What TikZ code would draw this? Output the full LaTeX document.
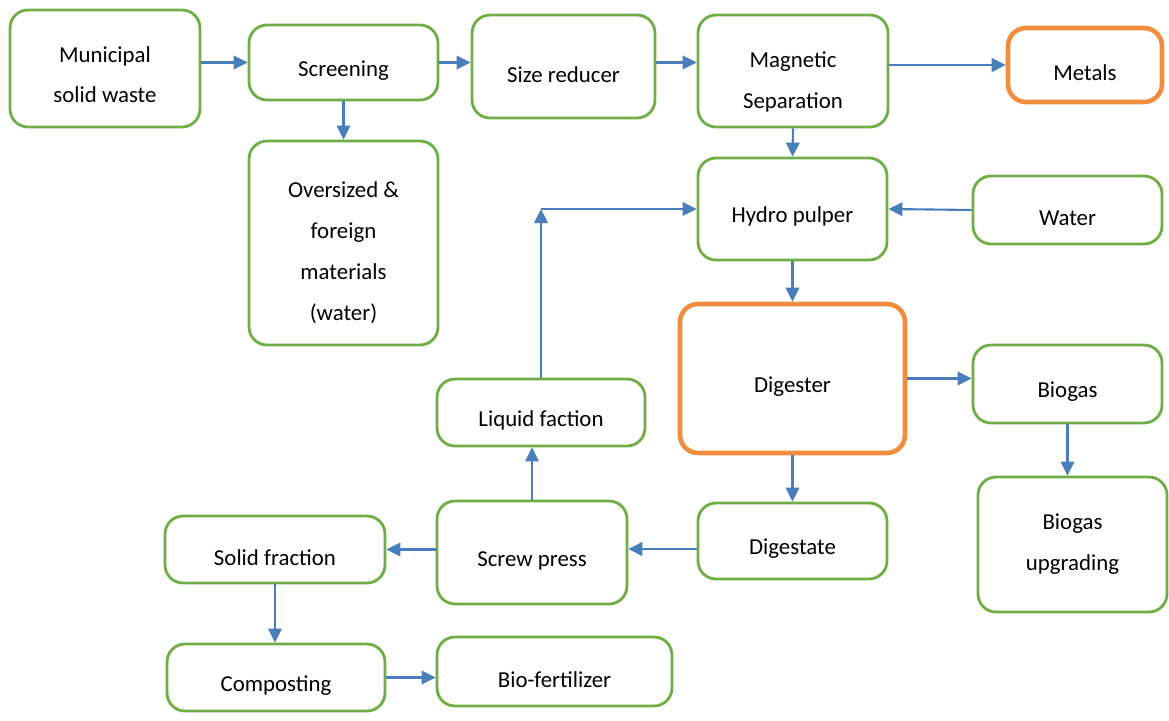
\documentclass[tikz,border=0pt]{standalone}
\usepackage{fontspec}
\setmainfont{Carlito}
\usetikzlibrary{arrows.meta}
\definecolor{boxgreen}{HTML}{70AD47}
\definecolor{boxorange}{HTML}{F08C3C}
\definecolor{arrblue}{HTML}{4A7EBB}
\newcommand{\lift}[1]{\rule{0pt}{#1}}
\tikzset{
    box/.style={draw=boxgreen,line width=1.6pt,rounded corners=0.36cm,align=center,
        font=\fontsize{13}{23.3}\selectfont,inner sep=0pt,
        execute at begin node=\rule{0pt}{18pt}},
    hot/.style={box,draw=boxorange,line width=2.6pt},
    arr/.style={draw=arrblue,line width=1.2pt,-{Triangle[length=0.28cm,width=0.27cm]}}
}
\begin{document}
\begin{tikzpicture}[x=0.02cm,y=-0.02cm]
\useasboundingbox (0,0) rectangle (1169,720);
% top row
\node[box,minimum width=3.8cm,minimum height=2.34cm] (msw) at (105,68.5) {\lift{16pt}Municipal\\solid waste};
\node[box,minimum width=3.78cm,minimum height=1.5cm] (scr) at (343.5,62.5) {Screening};
\node[box,minimum width=3.66cm,minimum height=2.06cm] (size) at (563.5,66.5) {Size reducer};
\node[box,minimum width=3.8cm,minimum height=2.24cm] (mag) at (793,71) {\lift{21.5pt}Magnetic\\Separation};
\node[hot,minimum width=3.08cm,minimum height=1.48cm] (metals) at (1085,65) {Metals};
\node[box,minimum width=3.78cm,minimum height=4.08cm] (over) at (343.5,243) {\lift{20pt}Oversized \&\\foreign\\materials\\(water)};
% middle
\node[box,minimum width=3.78cm,minimum height=2.04cm] (hydro) at (792.5,209) {Hydro pulper};
\node[box,minimum width=3.78cm,minimum height=1.36cm] (water) at (1067.5,210) {Water};
\node[hot,minimum width=4.5cm,minimum height=2.98cm] (dig) at (792.5,378.5) {Digester};
\node[box,minimum width=3.78cm,minimum height=1.56cm] (biogas) at (1067.5,384) {Biogas};
\node[box,minimum width=3.78cm,minimum height=2.7cm] (bup) at (1072.5,544.5) {Biogas\\upgrading};
\node[box,minimum width=4.16cm,minimum height=1.34cm] (liq) at (541,412.5) {Liquid faction};
% bottom
\node[box,minimum width=3.8cm,minimum height=2.06cm] (screw) at (532,552.5) {Screw press};
\node[box,minimum width=3.78cm,minimum height=1.52cm] (digst) at (792.5,541) {Digestate};
\node[box,minimum width=4.4cm,minimum height=1.34cm] (solid) at (275,549.5) {Solid fraction};
\node[box,minimum width=4.36cm,minimum height=1.34cm] (comp) at (276,677.5) {Composting};
\node[box,minimum width=4.7cm,minimum height=1.38cm] (biof) at (554.5,671.5) {Bio-fertilizer};
\coordinate (turn) at (liq.north |- hydro.west);
\coordinate (press) at (792.5,549);

% connectors
\draw[arr] (msw.east |- scr.west) -- (scr.west);
\draw[arr] (scr.east) -- (size.west |- scr.east);
\draw[arr] (size.east |- scr.east) -- (mag.west |- scr.east);
\draw[arr] (mag.east |- metals.west) -- (metals.west);
\draw[arr] (scr.south) -- (over.north);
\draw[arr] (mag.south) -- (hydro.north);
\draw[arr] (water.west) -- (hydro.east);
\draw[arr] (hydro.south) -- (dig.north);
\draw[arr] (dig.east) -- (biogas.west |- dig.east);
\draw[arr] (biogas.south) -- (biogas.south |- bup.north);
\draw[arr] (dig.south) -- (digst.north);
\draw[arr,line width=1.5pt] (digst.west |- press) -- (screw.east |- press);
\draw[arr] (screw.west |- solid.east) -- (solid.east);
\draw[arr] (screw.north) -- (screw.north |- liq.south);
\draw[arr] (liq.north) -- (turn);
\draw[arr] (turn) -- (hydro.west);
\draw[arr] (solid.south) -- (solid.south |- comp.north);
\draw[arr] (comp.east) -- (comp.east -| biof.west);
\end{tikzpicture}
\end{document}
